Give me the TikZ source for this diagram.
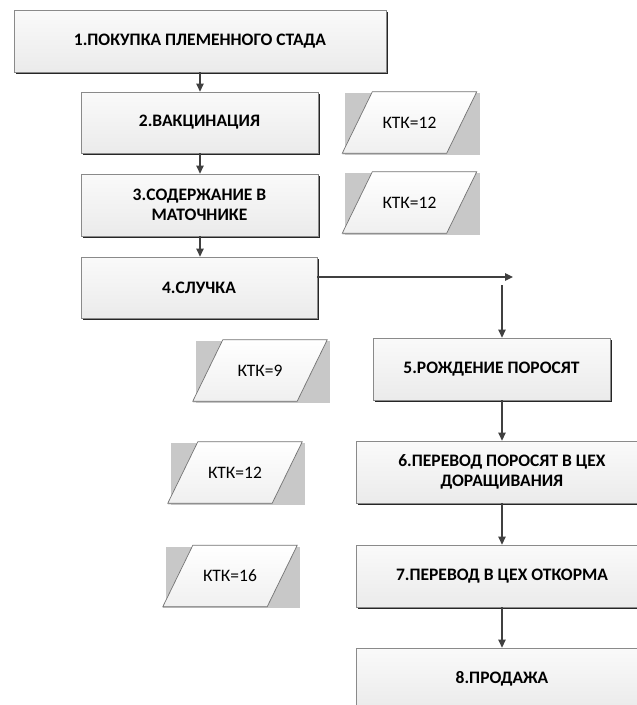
\documentclass[tikz,border=0pt]{standalone}
\usepackage{fontspec}
\setmainfont{Carlito}
\usetikzlibrary{arrows.meta,calc,backgrounds,shadows}
\definecolor{linec}{HTML}{404040}
\definecolor{boxedge}{HTML}{8A8A8A}
\definecolor{paragray}{HTML}{C8C8C8}
\begin{document}
\begin{tikzpicture}[x=1pt,y=-1pt,
  box/.style={draw=boxedge, line width=0.8pt, top color=black!2, bottom color=black!8,
    align=center, inner sep=2pt, font=\bfseries\fontsize{17.5}{20}\selectfont,
    drop shadow={shadow xshift=1.8pt, shadow yshift=-1.8pt, fill=black!85, opacity=1}},
  ktk/.style={minimum width=134pt, minimum height=61pt, inner sep=0pt,
    font=\fontsize{17.5}{20}\selectfont},
  arr/.style={draw=linec, line width=1.1pt, -{Triangle[length=8pt,width=7.5pt]}}]
\useasboundingbox (0,0) rectangle (637,705);
\clip (0,0) rectangle (637,705);

% process boxes
\node[box, minimum width=372pt, minimum height=62pt] (b1) at (200,41) {1.ПОКУПКА ПЛЕМЕННОГО СТАДА};
\node[box, minimum width=237pt, minimum height=61pt] (b2) at (199.5,122.5) {2.ВАКЦИНАЦИЯ};
\node[box, minimum width=237pt, minimum height=62pt] (b3) at (199.5,205) {3.СОДЕРЖАНИЕ В\\МАТОЧНИКЕ};
\node[box, minimum width=236pt, minimum height=61pt] (b4) at (199,287.5) {4.СЛУЧКА};
\node[box, minimum width=237pt, minimum height=62pt] (b5) at (491.5,369) {5.РОЖДЕНИЕ ПОРОСЯТ};
\node[box, minimum width=292pt, minimum height=62pt] (b6) at (502,472) {6.ПЕРЕВОД ПОРОСЯТ В ЦЕХ\\ДОРАЩИВАНИЯ};
\node[box, minimum width=292pt, minimum height=62pt] (b7) at (502,576) {7.ПЕРЕВОД В ЦЕХ ОТКОРМА};
\node[box, minimum width=292pt, minimum height=62pt] (b8) at (502,679) {8.ПРОДАЖА};

% KTK parallelograms
\node[ktk] (k1) at (409.5,122.5) {КТК=12};
\node[ktk] (k2) at (409.5,202.5) {КТК=12};
\node[ktk] (k3) at (260,370.5) {КТК=9};
\node[ktk] (k4) at (235,472.5) {КТК=12};
\node[ktk] (k5) at (230,576) {КТК=16};

\begin{pgfonlayer}{background}
\fill[white] (0,0) rectangle (637,705);
\foreach \k in {k1,k2,k3,k4,k5}{
  \fill[paragray] ($(\k.north west)+(3,1.5)$) rectangle ($(\k.south east)+(3,1.5)$);
  \fill[black!25] ($(\k.south west)+(0,1.2)$) -- ($(\k.south east)+(-30,1.2)$) -- ($(\k.north east)+(0,1.2)$) -- ($(\k.north west)+(30,1.2)$) -- cycle;
  \draw[black!55, line width=0.7pt, top color=white, bottom color=black!6]
    (\k.south west) -- ($(\k.north west)+(30,0)$) -- (\k.north east) -- ($(\k.south east)+(-30,0)$) -- cycle;
}
\end{pgfonlayer}

% connectors
\coordinate (h) at (513,277);
\coordinate (v) at (502,285);
\draw[arr] (b1.south) -- (b1.south |- b2.north);
\draw[arr] (b2.south -| b1.south) -- (b1.south |- b3.north);
\draw[arr] (b3.south -| b1.south) -- (b1.south |- b4.north);
\draw[arr] (b4.east |- h) -- (h);
\draw[arr] (v) -- (v |- b5.north);
\draw[arr] (b5.south -| b6.north) -- (b6.north);
\draw[arr] (b6.south) -- (b7.north);
\draw[arr] (b7.south) -- (b8.north);
\end{tikzpicture}
\end{document}
